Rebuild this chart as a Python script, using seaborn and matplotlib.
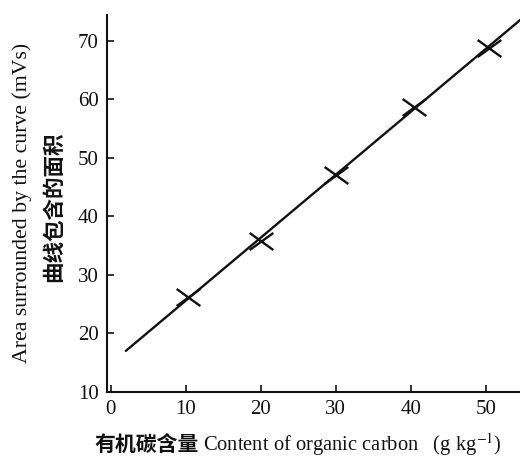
import numpy as np
import pandas as pd
import matplotlib.pyplot as plt
from matplotlib.path import Path
import seaborn as sns

# ── Dados ─────────────────────────────────────────────────────────────────────
carbono = [10.3, 20.0, 30.0, 40.5, 50.5]
area = [26.2, 35.8, 47.0, 58.6, 68.8]
ajuste_x = [2.0, 56.0]
ajuste_y = [17.0, 75.0]
xticks = [0, 10, 20, 30, 40, 50]
yticks = [10, 20, 30, 40, 50, 60, 70]

SERIF = ["Liberation Serif", "Noto Sans CJK SC"]
CJK = ["Noto Sans CJK SC", "Liberation Serif"]
TEXT = "#111111"

# marcador "x" um pouco mais largo que alto, como no original
CRUZ = Path([(-1, -0.72), (1, 0.72), (-1, 0.72), (1, -0.72)],
            [Path.MOVETO, Path.LINETO, Path.MOVETO, Path.LINETO])

sns.set_style("ticks")
plt.rcParams["font.family"] = SERIF
plt.rcParams["mathtext.fontset"] = "stix"

fig = plt.figure(figsize=(5.2, 4.61), dpi=100, facecolor="white")
ax = fig.add_axes([0.206, 0.150, 0.80, 0.818])

pontos = pd.DataFrame({"x": carbono, "y": area})
linha = pd.DataFrame({"x": ajuste_x, "y": ajuste_y})

sns.lineplot(data=linha, x="x", y="y", ax=ax, color=TEXT, linewidth=1.7)
sns.scatterplot(data=pontos, x="x", y="y", ax=ax, marker=CRUZ, s=290,
                color=TEXT, edgecolor=TEXT, linewidth=1.7, zorder=3)

ax.set_xlim(-0.5, 55)
ax.set_ylim(10, 74.4)
ax.set_xticks(xticks)
ax.set_yticks(yticks)
ax.tick_params(direction="in", length=5, width=1.2, labelsize=15,
               colors=TEXT, pad=6)
ax.spines[["top", "right"]].set_visible(False)
ax.spines[["bottom", "left"]].set_linewidth(1.5)
ax.spines[["bottom", "left"]].set_color(TEXT)
ax.set_xlabel("")
ax.set_ylabel("")

# rótulos do eixo y (duas linhas, inglês e chinês)
fig.text(0.042, 0.560, "Area surrounded by the curve (mVs)", rotation=90,
         ha="center", va="center", fontsize=15.7, family=SERIF, color=TEXT)
fig.text(0.104, 0.551, "曲线包含的面积", rotation=90, ha="center",
         va="center", fontsize=15.5, family=CJK, fontweight="bold", color=TEXT)

# rótulo do eixo x
fig.text(0.383, 0.035, "有机碳含量", ha="right", va="center", fontsize=15,
         family=CJK, fontweight="bold", color=TEXT)
fig.text(0.390, 0.035, "Content of organic carbon   (g kg$^{-1}$)",
         ha="left", va="center", fontsize=14.8, family=SERIF, color=TEXT)

plt.savefig("out.png", dpi=100, facecolor="white")
